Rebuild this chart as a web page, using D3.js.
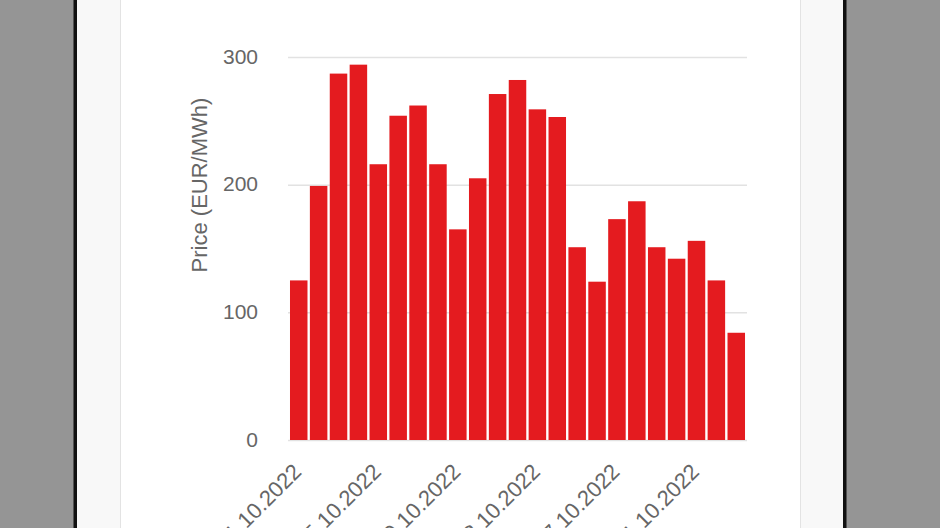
<!DOCTYPE html>
<html>
<head>
<meta charset="utf-8">
<script src="https://cdn.jsdelivr.net/npm/d3@7"></script>
<style>
  body { margin: 0; background: #959595; }
  svg { display: block; }
  text { font-family: "Liberation Sans", Arial, sans-serif; }
</style>
</head>
<body>
<svg id="chart"></svg>
<script>
// daily prices, October 2022
const dates = ["01.10.2022","02.10.2022","03.10.2022","04.10.2022","05.10.2022","06.10.2022",
  "07.10.2022","08.10.2022","09.10.2022","10.10.2022","11.10.2022","12.10.2022","13.10.2022",
  "14.10.2022","15.10.2022","16.10.2022","17.10.2022","18.10.2022","19.10.2022","20.10.2022",
  "21.10.2022","22.10.2022","23.10.2022"]
const prices = [125, 199, 287, 294, 216, 254, 262, 216, 165, 205, 271, 282, 259, 253,
  151, 124, 173, 187, 151, 142, 156, 125, 84]
const yTicks = [0, 100, 200, 300]
const xLabels = ["01.10.2022","05.10.2022","09.10.2022","13.10.2022","17.10.2022","21.10.2022"]

const width = 940
const height = 528

const svg = d3.select("#chart")
    .attr("width", width)
    .attr("height", height)

// phone screenshot frame
svg.append("rect").attr("x", 0).attr("y", 0).attr("width", width).attr("height", height).attr("fill", "#959595")
svg.append("rect").attr("x", 73.5).attr("y", 0).attr("width", 773).attr("height", height).attr("fill", "#111")
svg.append("rect").attr("x", 77).attr("y", 0).attr("width", 766).attr("height", height).attr("fill", "#f8f8f8")
svg.append("rect").attr("x", 120).attr("y", 0).attr("width", 681).attr("height", height).attr("fill", "#e3e3e3")
svg.append("rect").attr("x", 121).attr("y", 0).attr("width", 679).attr("height", height).attr("fill", "#fff")

const x = d3.scaleBand()
    .domain(dates)
    .range([288, 747])
    .paddingInner(0.12)
    .paddingOuter(0.1)

const y = d3.scaleLinear()
    .domain([0, 300])
    .range([440, 57])

// grid
const yAxis = svg.append("g")
    .attr("transform", "translate(288,0)")
    .call(d3.axisLeft(y).tickValues(yTicks).tickSize(-459).tickPadding(30))
yAxis.select(".domain").remove()
yAxis.selectAll(".tick line").attr("stroke", "#e2e2e2").attr("stroke-width", 1.5)
yAxis.selectAll(".tick text")
    .attr("fill", "#666")
    .attr("font-size", 21)
    .attr("font-family", "Liberation Sans, Arial, sans-serif")
    .attr("dy", "0.3em")

// bars
svg.append("g")
    .selectAll("rect")
    .data(prices)
    .enter()
    .append("rect")
    .attr("x", (d, i) => x(dates[i]))
    .attr("y", d => y(d))
    .attr("width", x.bandwidth())
    .attr("height", d => y(0) - y(d))
    .attr("fill", "#e41b1f")

// x labels
const xAxis = svg.append("g")
    .attr("transform", "translate(0,440)")
    .call(d3.axisBottom(x).tickValues(xLabels).tickSize(0))
xAxis.select(".domain").remove()
xAxis.selectAll(".tick text")
    .attr("fill", "#666")
    .attr("font-size", 22)
    .attr("font-family", "Liberation Sans, Arial, sans-serif")
    .attr("text-anchor", "end")
    .attr("x", 0)
    .attr("y", 0)
    .attr("dy", 0)
    .attr("transform", "translate(4,33) rotate(-45)")

// axis title
svg.append("text")
    .attr("transform", "translate(207,185) rotate(-90)")
    .attr("text-anchor", "middle")
    .attr("fill", "#666")
    .attr("font-size", 22)
    .text("Price (EUR/MWh)")
</script>
</body>
</html>
